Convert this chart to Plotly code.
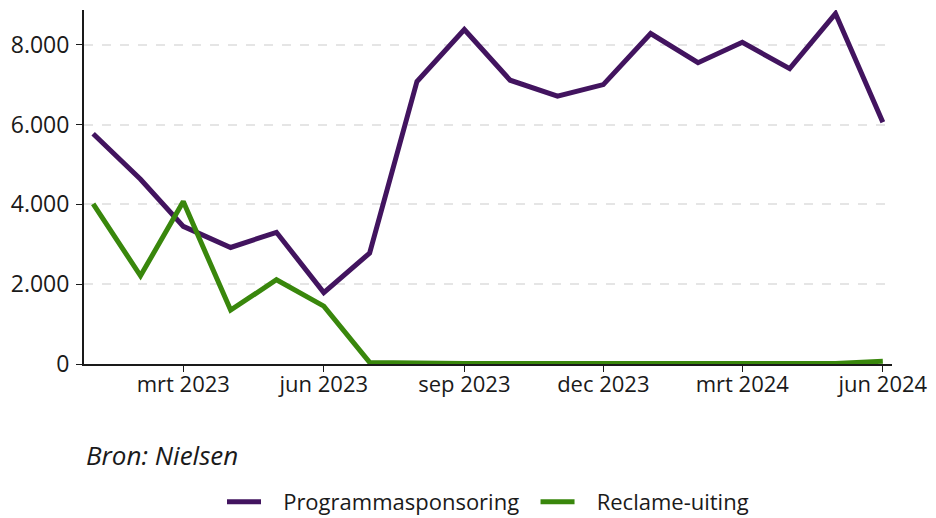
import plotly.graph_objects as go

months = ["2023-01-01", "2023-02-01", "2023-03-01", "2023-04-01", "2023-05-01", "2023-06-01",
          "2023-07-01", "2023-08-01", "2023-09-01", "2023-10-01", "2023-11-01", "2023-12-01",
          "2024-01-01", "2024-02-01", "2024-03-01", "2024-04-01", "2024-05-01", "2024-06-01"]
programmasponsoring = [5770, 4630, 3450, 2920, 3300, 1790, 2780, 7080, 8380, 7110, 6710, 7000,
                       8280, 7550, 8060, 7400, 8780, 6060]
reclame_uiting = [4010, 2210, 4070, 1350, 2110, 1450, 40, 15, 10, 10, 10, 10,
                  10, 10, 10, 10, 15, 70]
tick_dates = ["2023-03-01", "2023-06-01", "2023-09-01", "2023-12-01", "2024-03-01", "2024-06-01"]
tick_labels = ["mrt 2023", "jun 2023", "sep 2023", "dec 2023", "mrt 2024", "jun 2024"]
y_ticks = [0, 2000, 4000, 6000, 8000]

FONT = "Open Sans"
NB = "\u00a0"

fig = go.Figure()
fig.add_trace(go.Scatter(x=months, y=programmasponsoring, mode="lines",
                         name=NB * 3 + "Programmasponsoring" + NB * 2,
                         line=dict(color="#42145f", width=5)))
fig.add_trace(go.Scatter(x=months, y=reclame_uiting, mode="lines",
                         name=NB * 3 + "Reclame-uiting",
                         line=dict(color="#39870c", width=5)))

fig.update_layout(
    width=936, height=518,
    margin=dict(l=76, r=52, t=2, b=162),
    plot_bgcolor="white", paper_bgcolor="white",
    separators=",.",
    font=dict(family=FONT, size=23, color="#1a1a1a"),
    showlegend=True,
    legend=dict(orientation="h", x=0.5, xanchor="center", y=-0.39, yanchor="middle",
                font=dict(family=FONT, size=22, color="#1a1a1a"), itemwidth=34,
                traceorder="normal"),
    annotations=[dict(text="<i>Bron: Nielsen</i>", xref="paper", yref="paper", x=0, y=-0.257,
                      xanchor="left", yanchor="middle", showarrow=False,
                      font=dict(family=FONT, size=26, color="#1a1a1a"))],
)
fig.update_xaxes(
    type="date", range=["2022-12-26", "2024-06-07"],
    tickvals=tick_dates, ticktext=tick_labels, automargin=False,
    showgrid=False, showline=True, linecolor="#1a1a1a", linewidth=2,
    ticks="outside", ticklen=6, tickcolor="#1a1a1a", tickwidth=1,
    zeroline=False, tickfont=dict(size=22), ticklabelstandoff=-6,
)
fig.update_yaxes(
    range=[0, 8870], tickvals=y_ticks, tickformat=",d", automargin=False,
    showgrid=True, gridcolor="#e5e5e5", griddash="dash", gridwidth=1.5,
    showline=True, linecolor="#1a1a1a", linewidth=2,
    ticks="outside", ticklen=6, tickcolor="#1a1a1a", tickwidth=1,
    zeroline=False, tickfont=dict(size=23), ticklabelstandoff=2,
)

fig.write_html("out.html")
